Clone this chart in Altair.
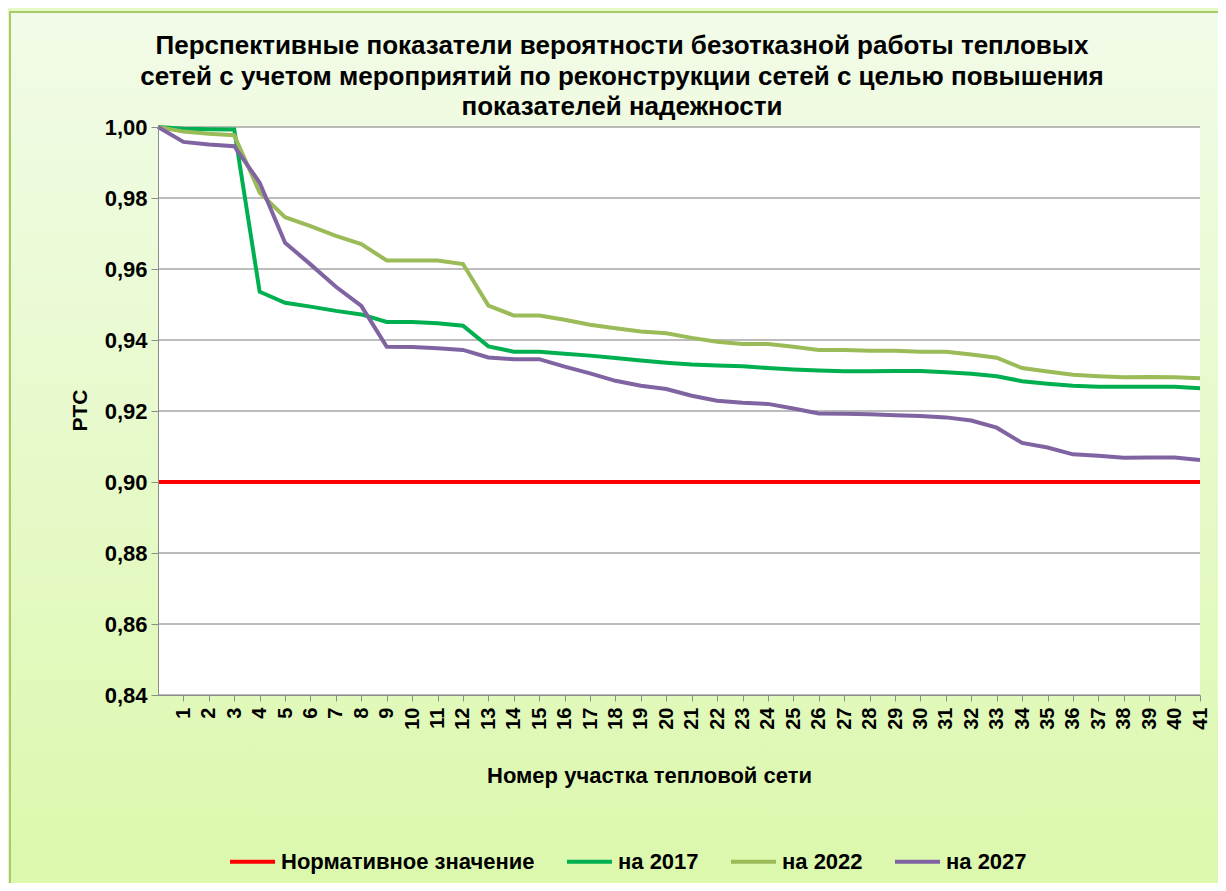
import altair as alt
import pandas as pd

# ---- data ----
sections = list(range(0, 42))          # 0 = start point (blank label), 1..41 = section numbers
tick_values = list(range(1, 42))
y_ticks = [0.84, 0.86, 0.88, 0.90, 0.92, 0.94, 0.96, 0.98, 1.00]

v2017 = [1.000, 0.9995, 0.9994, 0.9993, 0.9536, 0.9505, 0.9494, 0.9482, 0.9472, 0.9451,
         0.9451, 0.9447, 0.9440, 0.9382, 0.9367, 0.9367, 0.9361, 0.9356, 0.9349, 0.9342,
         0.9336, 0.9331, 0.9328, 0.9326, 0.9321, 0.9317, 0.9314, 0.9312, 0.9312, 0.9313,
         0.9313, 0.9309, 0.9305, 0.9298, 0.9284, 0.9277, 0.9271, 0.9268, 0.9268, 0.9268,
         0.9268, 0.9264]
v2022 = [1.000, 0.9987, 0.9981, 0.9977, 0.9815, 0.9746, 0.9721, 0.9693, 0.9670, 0.9624,
         0.9624, 0.9624, 0.9614, 0.9497, 0.9469, 0.9469, 0.9457, 0.9443, 0.9433, 0.9424,
         0.9419, 0.9406, 0.9395, 0.9389, 0.9389, 0.9381, 0.9372, 0.9372, 0.9370, 0.9370,
         0.9367, 0.9367, 0.9359, 0.9350, 0.9321, 0.9311, 0.9302, 0.9298, 0.9295, 0.9296,
         0.9295, 0.9292]
v2027 = [1.000, 0.9958, 0.9951, 0.9946, 0.9843, 0.9674, 0.9613, 0.9550, 0.9496, 0.9381,
         0.9380, 0.9377, 0.9372, 0.9351, 0.9346, 0.9346, 0.9325, 0.9306, 0.9285, 0.9271,
         0.9262, 0.9243, 0.9229, 0.9223, 0.9220, 0.9207, 0.9193, 0.9192, 0.9191, 0.9188,
         0.9186, 0.9182, 0.9173, 0.9153, 0.9110, 0.9097, 0.9078, 0.9074, 0.9068, 0.9069,
         0.9069, 0.9062]
norm_value = 0.90

series_names = ["Нормативное значение", "на 2017", "на 2022", "на 2027"]
series_colors = ["#ff0000", "#00b050", "#9bbb59", "#8064a2"]

title_lines = [
    "Перспективные показатели вероятности безотказной работы тепловых",
    "сетей с учетом  мероприятий по реконструкции сетей с целью повышения",
    "показателей надежности",
]
x_title = "Номер участка тепловой сети"
y_title = "PTC"

# ---- tables ----
rows = []
for name, vals in zip(series_names[1:], [v2017, v2022, v2027]):
    for s, v in zip(sections, vals):
        rows.append({"section": s, "value": v, "series": name})
df = pd.DataFrame(rows)
norm_df = pd.DataFrame({"series": [series_names[0]], "value": [norm_value]})
grid_df = pd.DataFrame({"value": y_ticks})
one_df = pd.DataFrame({"k": [0]})

W, H = 1042, 568
FONT = "Liberation Sans"

xscale = alt.Scale(domain=[0, 41], nice=False, zero=False)
yscale = alt.Scale(domain=[0.84, 1.0], nice=False, zero=False)

yaxis = alt.Axis(
    values=y_ticks, grid=False, zindex=1,
    labelExpr="replace(format(datum.value, '.2f'), '.', ',')",
    labelFont=FONT, labelFontSize=22, labelFontWeight="bold", labelColor="black",
    labelPadding=4, tickSize=7, tickColor="#8c8c8c", domainColor="#8c8c8c",
    title=y_title, titleFont=FONT, titleFontSize=21, titleFontWeight="bold",
    titleColor="black", titleX=-78, titleY=283, titleAlign="center",
    titleBaseline="middle", titleAngle=270,
)
xaxis = alt.Axis(
    values=tick_values, grid=False, zindex=1, labelAngle=-90,
    labelFont=FONT, labelFontSize=20, labelFontWeight="bold", labelColor="black",
    labelPadding=6, tickSize=6, tickColor="#8c8c8c", domainColor="#8c8c8c",
    labelOverlap=False, labelFlush=False,
    title=x_title, titleFont=FONT, titleFontSize=22, titleFontWeight="bold",
    titleColor="black", titleX=491, titleY=80, titleAlign="center",
    titleBaseline="middle",
)

legend = alt.Legend(
    orient="none", legendX=70, legendY=710, direction="horizontal", title=None,
    symbolType="stroke", symbolSize=2025, symbolStrokeWidth=4,
    labelFont=FONT, labelFontSize=22, labelFontWeight="bold", labelColor="black",
    labelOffset=4, columnPadding=24, labelLimit=400,
)
color = alt.Color("series:N", scale=alt.Scale(domain=series_names, range=series_colors),
                  legend=legend)

bg = alt.Chart(one_df).mark_rect(
    fill=alt.Gradient(
        gradient="linear",
        stops=[alt.GradientStop(color="#f2fbe8", offset=0),
               alt.GradientStop(color="#dbf8ab", offset=1)],
        x1=0, x2=0, y1=0, y2=1),
    stroke="#a9c96a", strokeWidth=2,
).encode(x=alt.value(-148), x2=alt.value(1080), y=alt.value(-115), y2=alt.value(780))

title = alt.Chart(one_df).mark_text(
    text=title_lines, font=FONT, fontSize=26, fontWeight="bold", color="black",
    align="center", baseline="alphabetic", lineHeight=30.7,
).encode(x=alt.value(464), y=alt.value(-73))

plot_bg = alt.Chart(one_df).mark_rect(fill="white").encode(
    x=alt.value(0), x2=alt.value(W), y=alt.value(0), y2=alt.value(H))

grid = alt.Chart(grid_df).mark_rule(color="#a6a6a6", strokeWidth=1.5).encode(
    y=alt.Y("value:Q", scale=yscale, axis=yaxis),
    x=alt.value(0), x2=alt.value(W))

norm = alt.Chart(norm_df).mark_rule(strokeWidth=4).encode(
    y=alt.Y("value:Q", scale=yscale, axis=yaxis),
    color=color)

lines = alt.Chart(df).mark_line(strokeWidth=4).encode(
    x=alt.X("section:Q", scale=xscale, axis=xaxis),
    y=alt.Y("value:Q", scale=yscale, axis=yaxis),
    color=color)

chart = alt.layer(bg, title, plot_bg, grid, norm, lines).properties(
    width=W, height=H,
    autosize=alt.AutoSizeParams(type="none"),
    padding={"left": 150, "top": 119, "right": 18, "bottom": 188},
).configure_view(stroke=None).configure(background="#e4f9c4")

chart.save("out.html", embed_options={"renderer": "svg", "actions": False})
